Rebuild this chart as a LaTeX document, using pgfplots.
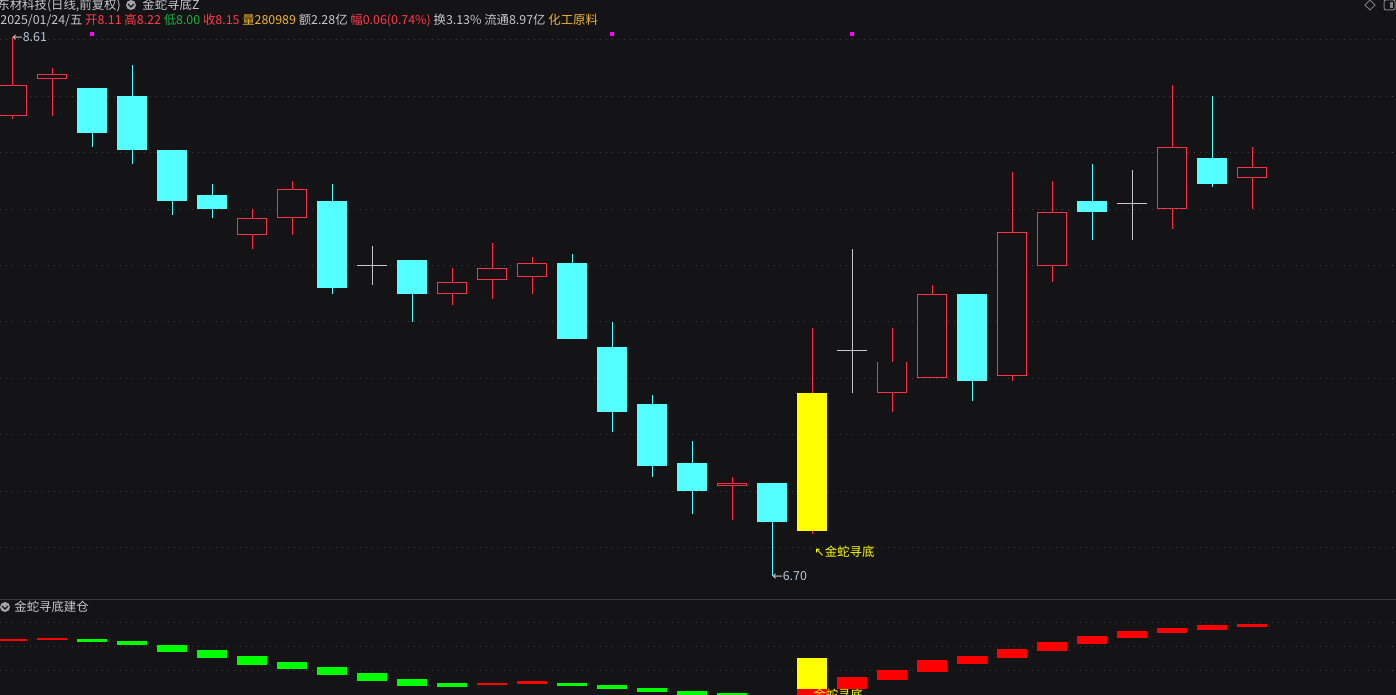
\documentclass[border=0pt]{standalone}
\usepackage{pgfplots}
\pgfplotsset{compat=1.18}
\usepackage{pgfplotstable}
\usepackage{fontspec}
\setmainfont{Noto Sans CJK SC}
\newfontfamily\sym{DejaVu Sans}

\definecolor{bg}{RGB}{20,19,21}
\definecolor{gridc}{RGB}{62,62,66}
\definecolor{cred}{RGB}{255,48,72}
\definecolor{ccyan}{RGB}{84,255,255}
\definecolor{cyel}{RGB}{255,255,0}
\definecolor{cdoji}{RGB}{200,200,200}
\definecolor{lred}{RGB}{255,0,0}
\definecolor{lgreen}{RGB}{0,255,0}
\definecolor{txt}{RGB}{200,200,200}
\definecolor{lbl}{RGB}{185,198,218}
\definecolor{hred}{RGB}{255,58,72}
\definecolor{hgreen}{RGB}{30,175,60}
\definecolor{hgold}{RGB}{240,180,40}
\definecolor{mag}{RGB}{255,0,255}
\definecolor{sep}{RGB}{58,60,68}

% candles: x open high low close
\pgfplotstableread{
x o h l c
0 8.33 8.61 8.32 8.44
1 8.46 8.50 8.33 8.48
6 7.91 8.00 7.86 7.97
7 7.97 8.10 7.91 8.07
11 7.70 7.79 7.66 7.74
12 7.75 7.88 7.68 7.79
13 7.76 7.83 7.70 7.81
18 7.02 7.05 6.90 7.03
22 7.35 7.58 7.28 7.46
23 7.40 7.73 7.40 7.70
25 7.41 8.13 7.39 7.92
26 7.80 8.10 7.74 7.99
29 8.00 8.44 7.93 8.22
31 8.11 8.22 8.00 8.15
}\upk
\pgfplotstableread{
x o h l c
2 8.43 8.43 8.22 8.27
3 8.40 8.51 8.16 8.21
4 8.21 8.21 7.98 8.03
5 8.05 8.09 7.97 8.00
8 8.03 8.09 7.70 7.72
10 7.82 7.82 7.60 7.70
14 7.81 7.84 7.54 7.54
15 7.51 7.60 7.21 7.28
16 7.31 7.34 7.05 7.09
17 7.10 7.18 6.92 7.00
19 7.03 7.03 6.70 6.89
24 7.70 7.70 7.32 7.39
27 8.03 8.16 7.89 7.99
30 8.18 8.40 8.08 8.09
}\dnk
\pgfplotstableread{
x o h l c
9 7.80 7.87 7.73 7.80
21 7.50 7.86 7.35 7.50
28 8.02 8.14 7.89 8.02
}\dojik
\pgfplotstableread{
x o h l c
20 6.86 7.58 6.85 7.35
}\sigk

% lower indicator: x low high
\pgfplotstableread{
x lo hi
2 2.19 2.30
3 2.07 2.22
4 1.78 2.05
5 1.53 1.85
6 1.23 1.60
7 1.07 1.35
8 0.82 1.14
9 0.57 0.89
10 0.36 0.64
11 0.32 0.47
14 0.36 0.47
15 0.23 0.39
16 0.11 0.26
17 -0.10 0.14
18 -0.25 0.05
19 -0.40 -0.12
}\lowg
\pgfplotstableread{
x lo hi
0 2.23 2.30
1 2.28 2.35
12 0.40 0.47
13 0.44 0.55
20 -0.45 0.22
21 0.23 0.72
22 0.60 1.01
23 0.93 1.43
24 1.26 1.60
25 1.51 1.89
26 1.80 2.18
27 2.10 2.43
28 2.35 2.64
29 2.55 2.76
30 2.68 2.89
31 2.80 2.93
}\lowr
\pgfplotstableread{
x lo hi
20 0.22 1.51
}\lowy

\pgfplotsset{
  vbar/.style 2 args={draw=none, mark=none, forget plot,
    /pgfplots/error bars/y dir=plus,
    /pgfplots/error bars/y explicit,
    /pgfplots/error bars/error mark=none,
    /pgfplots/error bars/error bar style={draw=#1, line width=#2, solid}},
  panel/.style={scale only axis, anchor=north west, width=698pt,
    xmin=-0.3, xmax=34.6, axis line style={draw=none},
    xtick=\empty, yticklabels={}, major tick length=0pt,
    ymajorgrids, grid style={gridc, line width=0.5pt, dash pattern=on 0.5pt off 2.5pt}},
}

\begin{document}
\begin{tikzpicture}[every node/.append style={font=\fontsize{6.2pt}{7pt}\selectfont, inner sep=0pt}]
\useasboundingbox (0,0) rectangle (698pt,-347.5pt);
\clip (0,0) rectangle (698pt,-347.5pt);
\fill[bg] (0,0) rectangle (698pt,-347.5pt);

\begin{axis}[panel, at={(0pt,0pt)}, height=299pt,
  ymin=6.622, ymax=8.741, ytick={6.8,7,7.2,7.4,7.6,7.8,8,8.2,8.4,8.6}]
  % wicks
  \addplot[vbar={cred}{0.5pt}] table[x=x, y=l, y error plus expr=\thisrow{h}-\thisrow{l}] {\upk};
  \addplot[vbar={ccyan}{0.5pt}] table[x=x, y=l, y error plus expr=\thisrow{h}-\thisrow{l}] {\dnk};
  \addplot[vbar={cdoji}{0.5pt}] table[x=x, y=l, y error plus expr=\thisrow{h}-\thisrow{l}] {\dojik};
  \addplot[vbar={cred}{0.5pt}] table[x=x, y=l, y error plus expr=\thisrow{h}-\thisrow{l}] {\sigk};
  % bodies
  \addplot[vbar={cred}{15pt}] table[x=x, y=o, y error plus expr=\thisrow{c}-\thisrow{o}] {\upk};
  \addplot[vbar={bg}{14pt}] table[x=x, y expr=\thisrow{o}+0.0035, y error plus expr=\thisrow{c}-\thisrow{o}-0.007] {\upk};
  \addplot[vbar={ccyan}{15pt}] table[x=x, y=c, y error plus expr=\thisrow{o}-\thisrow{c}] {\dnk};
  \addplot[vbar={cdoji}{15pt}] table[x=x, y expr=\thisrow{o}-0.0018, y error plus expr=0.0036] {\dojik};
  \addplot[vbar={cyel}{15pt}] table[x=x, y=o, y error plus expr=\thisrow{c}-\thisrow{o}] {\sigk};
  % signal dots
  \addplot[only marks, mark=square*, mark size=0.75pt, mag] coordinates {(2,8.62) (15,8.62) (21,8.62)};
  \node[anchor=west, lbl] at (axis cs:0,8.61) {{\sym\color{txt}←}8.61};
  \node[anchor=west, lbl] at (axis cs:19,6.70) {{\sym\color{txt}←}6.70};
  \node[anchor=west, cyel] at (axis cs:20.05,6.785) {{\sym ↖}金蛇寻底};
\end{axis}

\begin{axis}[panel, at={(0pt,-300pt)}, height=47.5pt,
  ymin=-0.03, ymax=3.93, ytick={1,2,3}]
  \addplot[vbar={lgreen}{15pt}] table[x=x, y=lo, y error plus expr=\thisrow{hi}-\thisrow{lo}] {\lowg};
  \addplot[vbar={lred}{15pt}] table[x=x, y=lo, y error plus expr=\thisrow{hi}-\thisrow{lo}] {\lowr};
  \addplot[vbar={cyel}{15pt}] table[x=x, y=lo, y error plus expr=\thisrow{hi}-\thisrow{lo}] {\lowy};
\end{axis}

\begin{scope}[x=0.5pt, y=-0.5pt]
  \draw[sep, line width=0.5pt] (0,599) -- (1396,599);
  % header
  \node[anchor=west, txt] at (-3,5) {东材科技(日线,前复权)};
  \fill[gray!70] (131,5) circle (5);
  \draw[bg, line width=0.6pt] (128,4) -- (131,7) -- (134,4);
  \node[anchor=west, txt] at (142,5) {金蛇寻底Z};
  \node[anchor=west] at (0,20) {\color{txt}2025/01/24/五 \color{hred}开8.11 高8.22 \color{hgreen}低8.00 \color{hred}收8.15 \color{hgold}量280989 \color{txt}额2.28亿 \color{hred}幅0.06(0.74\%) \color{txt}换3.13\% 流通8.97亿 \color{hgold}化工原料};
  \draw[gray, line width=0.5pt] (1370,0) -- (1375,5) -- (1370,10) -- (1365,5) -- cycle;
  \draw[gray, line width=0.5pt, rounded corners=1pt] (1384,0) rectangle (1395,10);
  \fill[gray] (1390,2) rectangle (1393,8);
  % lower panel title
  \fill[gray!70] (5,607) circle (5);
  \draw[bg, line width=0.6pt] (2,606) -- (5,609) -- (8,606);
  \node[anchor=west, txt] at (14,607) {金蛇寻底建仓};
  \node[anchor=north west, cyel] at (813,689) {金蛇寻底};
\end{scope}
\end{tikzpicture}
\end{document}
